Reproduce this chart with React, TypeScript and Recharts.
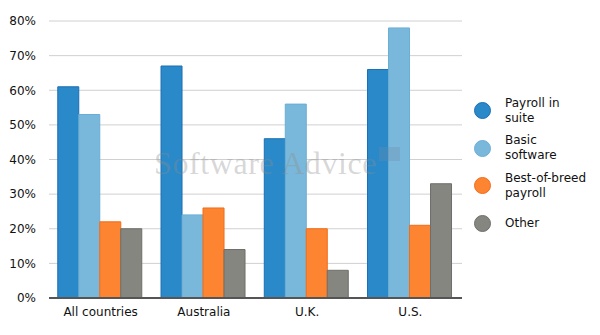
import { BarChart, Bar, XAxis, YAxis, CartesianGrid } from "recharts";

const countries = ["All countries", "Australia", "U.K.", "U.S."];
const payrollInSuite = [61, 67, 46, 66];
const basicSoftware = [53, 24, 56, 78];
const bestOfBreed = [22, 26, 20, 21];
const other = [20, 14, 8, 33];
const yTicks = [0, 10, 20, 30, 40, 50, 60, 70, 80];

const series = [
  { key: "payroll", lines: ["Payroll in", "suite"], fill: "#2a89c8", stroke: "#1b6fb4" },
  { key: "basic", lines: ["Basic", "software"], fill: "#7ab8db", stroke: "#6aaed6" },
  { key: "breed", lines: ["Best-of-breed", "payroll"], fill: "#fd8532", stroke: "#f26d18" },
  { key: "other", lines: ["Other"], fill: "#868681", stroke: "#6e6e6a" },
];

const data = countries.map((name, i) => ({
  name,
  payroll: payrollInSuite[i],
  basic: basicSoftware[i],
  breed: bestOfBreed[i],
  other: other[i],
}));

const font = "Verdana, 'DejaVu Sans', sans-serif";

export default function App() {
  return (
    <div style={{ position: "absolute", left: 0, top: 0, width: 600, height: 335, background: "#fff", fontFamily: font }}>
      <BarChart
        width={600}
        height={335}
        data={data}
        margin={{ top: 21, right: 138, bottom: 7, left: 0 }}
        barCategoryGap="8.5%"
        barGap={0}
      >
        <CartesianGrid vertical={false} stroke="#d0d0d0" strokeWidth={1} />
        <XAxis
          dataKey="name"
          tickLine={false}
          axisLine={{ stroke: "#555", strokeWidth: 2 }}
          tick={{ fill: "#111", fontSize: 12, fontFamily: font }}
          tickMargin={3}
          height={30}
        />
        <YAxis
          domain={[0, 80]}
          ticks={yTicks}
          width={49}
          axisLine={false}
          tickLine={false}
          tickMargin={7}
          tickFormatter={(v: number) => `${v}%`}
          tick={{ fill: "#111", fontSize: 12, fontFamily: font }}
        />
        {series.map((s) => (
          <Bar key={s.key} dataKey={s.key} fill={s.fill} stroke={s.stroke} strokeWidth={1} isAnimationActive={false} />
        ))}
      </BarChart>
      <div
        style={{
          position: "absolute",
          left: 154,
          top: 145,
          fontFamily: "'Liberation Serif', 'DejaVu Serif', serif",
          fontSize: 32,
          letterSpacing: 0.6,
          color: "rgba(140,140,140,0.35)",
          whiteSpace: "nowrap",
          pointerEvents: "none",
        }}
      >
        Software Advice
      </div>
      <div
        style={{
          position: "absolute",
          left: 379,
          top: 147,
          width: 21,
          height: 14,
          background: "rgba(110,140,170,0.3)",
          pointerEvents: "none",
        }}
      />
      <div style={{ position: "absolute", left: 474, top: 92, fontSize: 12, color: "#111" }}>
        {series.map((s) => (
          <div key={s.key} style={{ display: "flex", alignItems: "center", height: 37.5 }}>
            <span
              style={{
                display: "inline-block",
                width: 17,
                height: 17,
                borderRadius: "50%",
                background: s.fill,
                border: `1px solid ${s.stroke}`,
                boxSizing: "border-box",
                marginRight: 14,
              }}
            />
            <span style={{ lineHeight: "15px" }}>
              {s.lines.map((l) => (
                <div key={l}>{l}</div>
              ))}
            </span>
          </div>
        ))}
      </div>
    </div>
  );
}
